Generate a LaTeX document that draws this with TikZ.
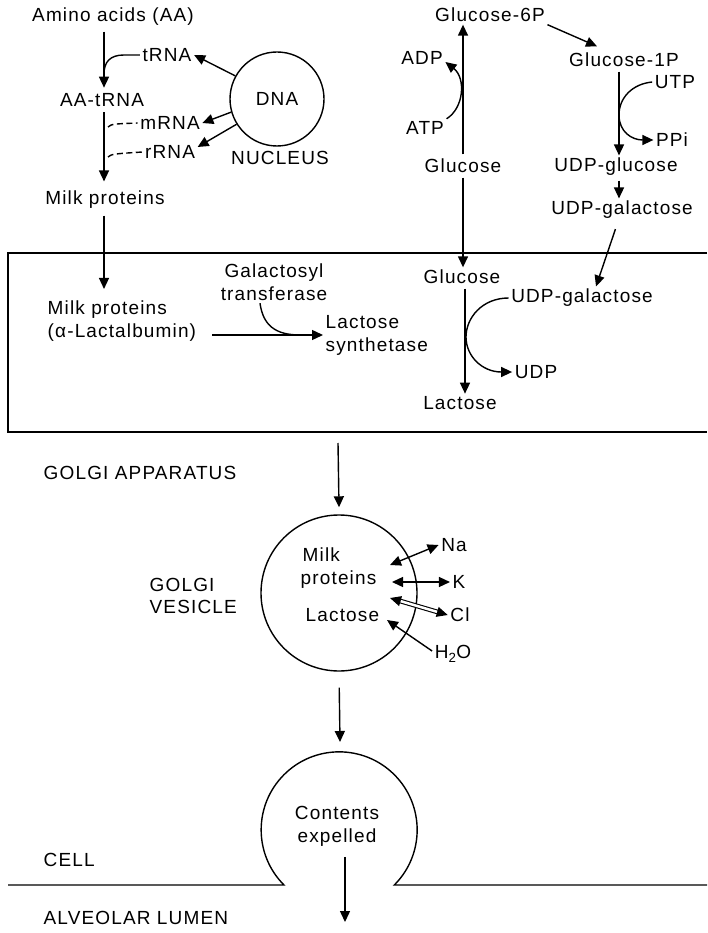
\documentclass[tikz,border=0pt]{standalone}
\usepackage{fontspec}
\setmainfont{Liberation Sans}[LetterSpace=6]
\usetikzlibrary{arrows.meta,calc}
\begin{document}
\begin{tikzpicture}[x=1pt,y=-1pt, line width=1.4pt,
  every node/.style={font=\fontsize{19}{23}\selectfont, inner sep=2pt},
  arr/.style={-{Triangle[length=11pt,width=10pt]}},
  darr/.style={{Triangle[length=11pt,width=10pt]}-{Triangle[length=11pt,width=10pt]}},
  ring/.style={circle,draw,inner sep=0pt}]
\useasboundingbox (0,0) rectangle (707,933);
% column coordinates
\coordinate (colA) at (104,0);
\coordinate (colG) at (463,0);
\coordinate (colG2) at (465,0);
\coordinate (colU) at (619,0);
% ---------- left top ----------
\node (aa) at (113,17) {Amino acids (AA)};
\node (aatrna) at (102,100) {AA-tRNA};
\node (mp1) at (105,200) {Milk proteins};
\node (trna) at (167,55) {tRNA};
\node (mrna) at (170,123) {mRNA};
\node (rrna) at (170,152) {rRNA};
\node[ring,minimum size=94pt] (dna) at (277,99) {DNA};
\node (nucleus) at (280,158) {NUCLEUS};
\draw[arr,shorten <=3pt,shorten >=3pt] (aa.south -| colA) -- (aatrna.north -| colA);
\draw (trna.west) -- (124,55) .. controls (110,55) and (104,62) .. (104,74);
\draw[arr] (dna.151) -- (trna.east);
\draw[arr] (dna.196) -- (mrna.east);
\draw[arr] (dna.212) -- ([yshift=5pt]rrna.east);
\coordinate (md) at (108,127);
\coordinate (rd) at (108,157);
\draw[dash pattern=on 6pt off 3.5pt] (md) .. controls (112,124) .. (mrna.west);
\draw[dash pattern=on 6pt off 3.5pt] (rd) .. controls (112,154) .. (rrna.west);
\draw[arr,shorten <=3pt,shorten >=7pt] (aatrna.south -| colA) -- (mp1.north -| colA);
% ---------- box ----------
\draw (707,253) -- (8,253) -- (8,432) -- (707,432);
\node[align=left,anchor=west] (mp2) at (45,321) {Milk proteins\\(α-Lactalbumin)};
\draw[arr,shorten <=4pt,shorten >=9pt] (mp1.south -| colA) -- (mp2.north -| colA);
\node[align=center] (gt) at (274,282) {Galactosyl\\transferase};
\node[align=left,anchor=west] (ls) at (323,335) {Lactose\\synthetase};
\coordinate (lsin) at (212,335);
\draw[arr] (lsin) -- (ls.west);
\coordinate (gtj) at (300,335);
\draw ([xshift=-14pt]gt.south) .. controls (263,325) and (275,335) .. (gtj);
% ---------- right top ----------
\node (g6p) at (490,15) {Glucose-6P};
\node (g1p) at (624,60) {Glucose-1P};
\node (glc) at (463,166) {Glucose};
\node (adp) at (422,58) {ADP};
\node (atp) at (425,128) {ATP};
\node (utp) at (675,82) {UTP};
\node (ppi) at (672,140) {PPi};
\node (udpglc) at (616,167) {UDP-glucose};
\node (udpgal) at (622,210) {UDP-galactose};
\draw[arr,shorten <=2pt] (glc.north -| colG) -- (g6p.south -| colG);
\draw[arr] (g6p.south east) -- ($(g1p.north)+(-27,-4)$);
\draw[arr] (atp.north east) .. controls (464,108) and (466,78) .. ([yshift=-4pt]adp.east);
\draw[arr,shorten <=2pt] (g1p.south -| colU) -- (udpglc.north -| colU);
\draw[arr] (utp.west) .. controls (632,84) and (619,98) .. (619,115) .. controls (619,132) and (632,140) .. (ppi.west);
\draw[arr,shorten <=2pt] (udpglc.south -| colU) -- (udpgal.north -| colU);
% ---------- inside box, right ----------
\node (glc2) at (462,277) {Glucose};
\node (udpgal2) at (582,298) {UDP-galactose};
\node (udp) at (536,372) {UDP};
\node (lac) at (460,403) {Lactose};
\draw[arr,shorten <=2pt] (glc.south -| colG) -- (glc2.north -| colG);
\draw[arr,shorten <=2pt] (glc2.south -| colG2) -- (lac.north -| colG2);
\draw[arr] (udpgal2.west) .. controls (482,298) and (466,318) .. (466,337) .. controls (466,356) and (482,372) .. (udp.west);
\draw[arr,shorten <=8pt] ([xshift=-4pt]udpgal.south) -- ([xshift=14pt]udpgal2.north);
% ---------- Golgi ----------
\node (golgiapp) at (140,473) {GOLGI APPARATUS};
\node[ring,minimum size=156pt] (ves) at (339,593) {};
\coordinate (boxout) at (338,443);
\draw[arr] (boxout) -- ([yshift=7pt]ves.north);
\node[anchor=west] (vmilk) at (300,555) {Milk};
\node[anchor=west] (vprot) at (298,580) {proteins};
\node[anchor=west] (vlac) at (303,615) {Lactose};
\node[anchor=west] (golgi) at (147,585) {GOLGI};
\node[anchor=west] (vesicle) at (147,607) {VESICLE};
\node (na) at (454,545) {Na};
\node (k) at (459,582) {K};
\node (cl) at (460,615) {Cl};
\node (h2o) at (453,654) {H\textsubscript{2}O};
\coordinate (nain) at (390,565);
\coordinate (kin) at (392,582);
\coordinate (clin) at (390,598);
\coordinate (h2oin) at (387,620);
\draw[darr] (nain) -- (na.west);
\draw[darr] (kin) -- (k.west);
\draw[line width=1.1pt,double distance=2.5pt,shorten <=8pt,shorten >=8pt] (clin) -- (cl.west);
\draw[arr] ($(clin)!10pt!(cl.west)$) -- (clin);
\draw[arr] ($(cl.west)!10pt!(clin)$) -- (cl.west);
\draw[arr] ([yshift=3pt]h2o.west) -- (h2oin);
% ---------- expulsion ----------
\coordinate (expto) at (340,742);
\draw[arr,shorten <=16pt] (ves.south) -- (expto);
\draw (8,885) -- (284,885) arc[start angle=225,end angle=-45,radius=78pt] -- (707,885);
\node[align=center] (cont) at (337,826) {Contents\\expelled};
\coordinate (lumenpt) at (345,922);
\draw[arr,shorten <=8pt] (cont.south -| lumenpt) -- (lumenpt);
\node[anchor=west] (cell) at (41,860) {CELL};
\node[anchor=west] (lumen) at (41,918) {ALVEOLAR LUMEN};
\end{tikzpicture}
\end{document}
